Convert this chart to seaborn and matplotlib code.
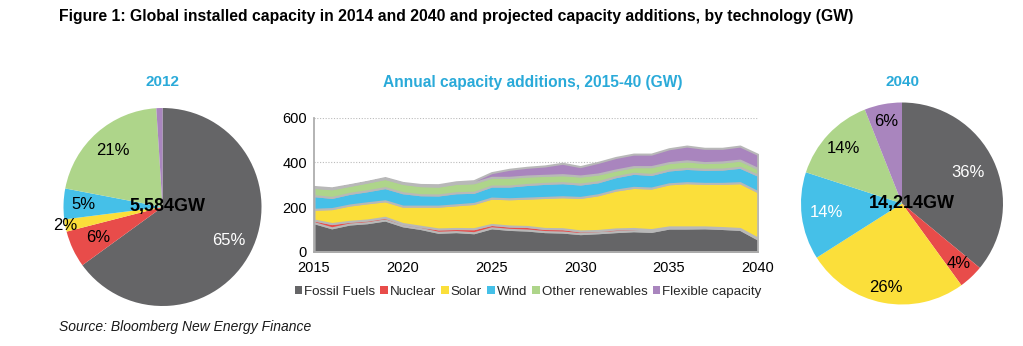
import numpy as np
import pandas as pd
import matplotlib
matplotlib.use("Agg")
import matplotlib.pyplot as plt
import seaborn as sns
from matplotlib.patches import Patch

# ---------------- data ----------------
years = list(range(2015, 2041))
techs = ["Fossil Fuels", "Nuclear", "Solar", "Wind", "Other renewables", "Flexible capacity"]

fossil = [130, 107, 124, 130, 142, 116, 104, 87, 90, 85, 107, 100, 97, 90, 88, 81, 85, 90, 94, 91, 106, 106, 107, 104, 100, 57]
nuclear = [12, 19, 12, 12, 12, 10, 10, 15, 14, 18, 15, 15, 16, 14, 15, 12, 10, 12, 10, 8, 5, 5, 4, 4, 4, 4]
solar = [48, 67, 73, 77, 74, 78, 90, 102, 106, 113, 118, 122, 127, 139, 143, 150, 160, 174, 184, 186, 193, 198, 195, 198, 205, 208]
wind = [61, 50, 52, 54, 59, 60, 51, 50, 54, 50, 54, 57, 61, 63, 63, 60, 58, 60, 63, 61, 62, 64, 63, 64, 69, 74]
other_ren = [37, 39, 36, 39, 41, 42, 41, 40, 42, 43, 39, 39, 38, 36, 36, 36, 35, 30, 30, 35, 33, 34, 30, 32, 32, 30]
flexible = [4, 4, 3, 3, 4, 4, 5, 6, 7, 9, 21, 36, 39, 42, 51, 42, 52, 56, 56, 56, 62, 66, 64, 61, 63, 63]

share_2012 = [65, 6, 2, 5, 21, 1]
share_2040 = [36, 4, 26, 14, 14, 6]
labels_2012 = ["65%", "6%", "2%", "5%", "21%", ""]
labels_2040 = ["36%", "4%", "26%", "14%", "14%", "6%"]
total_2012 = "5,584GW"
total_2040 = "14,214GW"
xtick_years = [2015, 2020, 2025, 2030, 2035, 2040]
yticks = [0, 200, 400, 600]

# ---------------- style ----------------
sns.set_theme(style="white")
plt.rcParams["font.family"] = ["Liberation Sans", "DejaVu Sans"]
palette = sns.color_palette(["#656567", "#E84C4A", "#FBDF3A", "#45C0E8", "#AED58A", "#A985BE"])
cyan = "#2AAAD9"

W, H = 1023, 346
fig = plt.figure(figsize=(W / 100, H / 100), dpi=100)

fig.text(59 / W, 1 - 17 / H, "Figure 1: Global installed capacity in 2014 and 2040 and projected capacity additions, by technology (GW)",
         fontsize=11.3, fontweight="bold", ha="left", va="center", color="black")
fig.text(59 / W, 1 - 327 / H, "Source: Bloomberg New Energy Finance", fontsize=10, style="italic",
         ha="left", va="center", color="#1a1a1a")

# ---------------- area chart ----------------
df = pd.DataFrame({"year": years, "Fossil Fuels": fossil, "Nuclear": nuclear, "Solar": solar,
                   "Wind": wind, "Other renewables": other_ren, "Flexible capacity": flexible})
ax = fig.add_axes([314 / W, 1 - 251.7 / H, (757.7 - 314) / W, (251.7 - 117.7) / H])
ax.stackplot(df["year"], *[df[t] for t in techs], colors=palette, edgecolor="#B8B8B8", linewidth=1.5)
ax.set_xlim(2015, 2040)
ax.set_ylim(0, 600)
ax.set_yticks(yticks)
ax.set_xticks(xtick_years)
ax.set_xticks(years, minor=True)
ax.tick_params(axis="x", which="both", direction="out", length=4, color="#999999", width=0.8, pad=3, labelsize=10.5)
ax.tick_params(axis="y", direction="out", length=3, color="#999999", width=0.8, pad=2, labelsize=10.5)
for lbl in ax.get_xticklabels() + ax.get_yticklabels():
    lbl.set_color("black")
ax.yaxis.grid(True, linestyle=(0, (1, 1.5)), color="#BBBBBB", linewidth=0.8)
ax.set_axisbelow(True)
sns.despine(ax=ax, top=True, right=True)
ax.spines["left"].set_color("#AAAAAA")
ax.spines["bottom"].set_color("#AAAAAA")
ax.set_xlabel("")
ax.set_ylabel("")
fig.text(533 / W, 1 - 82 / H, "Annual capacity additions, 2015-40 (GW)", fontsize=11.2, fontweight="bold",
         color=cyan, ha="center", va="center")

handles = [Patch(facecolor=c, edgecolor="none") for c in palette]
fig.legend(handles, techs, loc="center", bbox_to_anchor=(528 / W, 1 - 292 / H), ncol=6, frameon=False,
           fontsize=9.6, handlelength=0.55, handleheight=0.55, handletextpad=0.15, columnspacing=0.4,
           borderpad=0)

# ---------------- pies ----------------
def draw_pie(cx, cy, r, shares, labels, dists, txtcolors, title, total, total_dx):
    pax = fig.add_axes([(cx - r) / W, 1 - (cy + r) / H, 2 * r / W, 2 * r / H])
    wedges, _ = pax.pie(shares, colors=palette, startangle=90, counterclock=False, radius=1,
                        wedgeprops=dict(linewidth=0))
    for w, lab, d, tc in zip(wedges, labels, dists, txtcolors):
        if not lab:
            continue
        ang = np.deg2rad((w.theta1 + w.theta2) / 2)
        pax.text(d * np.cos(ang), d * np.sin(ang), lab, ha="center", va="center", fontsize=12, color=tc)
    pax.text(total_dx, 0, total, ha="center", va="center", fontsize=13, fontweight="bold", color="black")
    pax.set_xlim(-1, 1)
    pax.set_ylim(-1, 1)
    pax.axis("off")
    fig.text(cx / W, 1 - 82 / H, title, fontsize=11, fontweight="bold", color=cyan, ha="center", va="center")

draw_pie(162.5, 207, 99, share_2012, labels_2012, [0.75, 0.72, 1.0, 0.8, 0.76, 0.8],
         ["white", "black", "black", "black", "black", "black"], "2012", total_2012, 0.05)
draw_pie(902, 203.5, 101, share_2040, labels_2040, [0.72, 0.82, 0.85, 0.75, 0.79, 0.83],
         ["white", "black", "black", "white", "black", "black"], "2040", total_2040, 0.1)

fig.savefig("out.png", dpi=100)
